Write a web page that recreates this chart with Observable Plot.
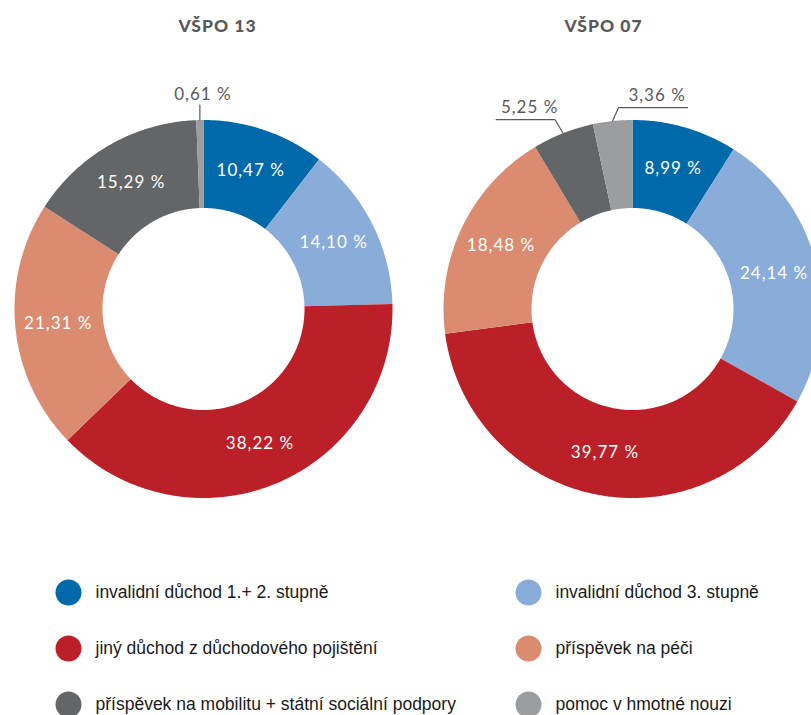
<!DOCTYPE html>
<html><head><meta charset="utf-8">
<script src="https://cdn.jsdelivr.net/npm/d3@7"></script>
<script src="https://cdn.jsdelivr.net/npm/@observablehq/plot@0.6"></script>
<style>
html,body{margin:0;padding:0;background:#fff;overflow:hidden;}
#chart svg{display:block;}
#chart svg g[font-family^="Lato"]{letter-spacing:1px;}
</style>
</head><body><div id="chart"></div>
<script>
// ---- data ----
const categories = [
  "invalidní důchod 1.+ 2. stupně",
  "invalidní důchod 3. stupně",
  "jiný důchod z důchodového pojištění",
  "příspěvek na péči",
  "příspěvek na mobilitu + státní sociální podpory",
  "pomoc v hmotné nouzi"
];
const colors = ["#0069aa", "#8aacd8", "#bb1f28", "#db8b70", "#646567", "#9c9d9f"];
const chartTitles = ["VŠPO 13", "VŠPO 07"];
const valuesVSPO13 = [10.47, 14.10, 38.22, 21.31, 15.29, 0.61];
const valuesVSPO07 = [8.99, 24.14, 39.77, 18.48, 5.25, 3.36];

// ---- layout (pixels) ----
const W = 811, H = 715;
const donuts = [{cx: 203, cy: 308.5, titleX: 217}, {cx: 632, cy: 308.5, titleX: 603}];
const titleY = 26;
const R_OUT = 189, R_IN = 101, R_LAB = 146;
const callouts = {
  "0-5": {elbow: [0, -15], run: 0, textDx: 3, textDy: -10},
  "1-4": {elbow: [-8, -13.5], run: -59, textDx: 4, textDy: -12},
  "1-5": {elbow: [6, -13.5], run: 69, textDx: 4, textDy: -12}
};
const legendX = [68, 528], legendY0 = 592, legendStep = 56, legendTextDx = 27;

const fmt = v => d3.format(".2f")(v).replace(".", ",") + " %";

const slices = [], inLabels = [], leaders = [], outLabels = [];
[valuesVSPO13, valuesVSPO07].forEach((vals, ci) => {
  const {cx, cy} = donuts[ci];
  const total = d3.sum(vals);
  let cum = 0;
  vals.forEach((v, i) => {
    const a0 = 2 * Math.PI * cum / total, a1 = 2 * Math.PI * (cum + v) / total;
    cum += v;
    const key = ci + "-" + i;
    const n = Math.max(2, Math.ceil((a1 - a0) / 0.01));
    for (let k = 0; k <= n; k++) { const a = a0 + (a1 - a0) * k / n; slices.push({key, cat: categories[i], x: cx + R_OUT * Math.sin(a), y: cy - R_OUT * Math.cos(a)}); }
    for (let k = n; k >= 0; k--) { const a = a0 + (a1 - a0) * k / n; slices.push({key, cat: categories[i], x: cx + R_IN * Math.sin(a), y: cy - R_IN * Math.cos(a)}); }
    const am = (a0 + a1) / 2;
    const c = callouts[key];
    if (!c) {
      inLabels.push({x: cx + R_LAB * Math.sin(am), y: cy - R_LAB * Math.cos(am), text: fmt(v)});
    } else {
      const p0 = [cx + R_OUT * Math.sin(am), cy - R_OUT * Math.cos(am)];
      const p1 = [p0[0] + c.elbow[0], p0[1] + c.elbow[1]];
      const p2 = [p1[0] + c.run, p1[1]];
      [p0, p1, p2].forEach(p => leaders.push({key, x: p[0], y: p[1]}));
      outLabels.push({x: (p1[0] + p2[0]) / 2 + c.textDx, y: p1[1] + c.textDy, text: fmt(v)});
    }
  });
});

const titles = chartTitles.map((t, i) => ({x: donuts[i].titleX, y: titleY, text: t}));
const legend = categories.map((c, i) => ({cat: c, x: legendX[i % 2], y: legendY0 + Math.floor(i / 2) * legendStep}));

const labelFont = "Lato, 'Open Sans', sans-serif";
const chart = Plot.plot({
  width: W, height: H,
  margin: 0,
  x: {domain: [0, W], range: [0, W], axis: null},
  y: {domain: [0, H], range: [0, H], axis: null},
  color: {domain: categories, range: colors},
  marks: [
    Plot.line(slices, {x: "x", y: "y", z: "key", fill: "cat", stroke: "none", curve: "linear-closed"}),
    Plot.text(inLabels, {x: "x", y: "y", text: "text", fill: "white", fontSize: 17, fontFamily: labelFont, textAnchor: "middle", lineAnchor: "middle"}),
    Plot.line(leaders, {x: "x", y: "y", z: "key", stroke: "#595a5c", strokeWidth: 1.2}),
    Plot.text(outLabels, {x: "x", y: "y", text: "text", fill: "#595a5c", fontSize: 17, fontFamily: labelFont, textAnchor: "middle", lineAnchor: "middle"}),
    Plot.text(titles, {x: "x", y: "y", text: "text", fill: "#58595b", fontSize: 17.5, fontWeight: 900, fontFamily: labelFont, textAnchor: "middle", lineAnchor: "middle"}),
    Plot.dot(legend, {x: "x", y: "y", fill: "cat", r: 13, stroke: "none"}),
    Plot.text(legend, {x: d => d.x + legendTextDx, y: "y", text: "cat", fill: "#1a1a1a", fontSize: 17.5, fontFamily: "'Liberation Sans Narrow', 'Arial Narrow', sans-serif", textAnchor: "start", lineAnchor: "middle"})
  ]
});
document.getElementById("chart").appendChild(chart);
</script>
</body></html>
